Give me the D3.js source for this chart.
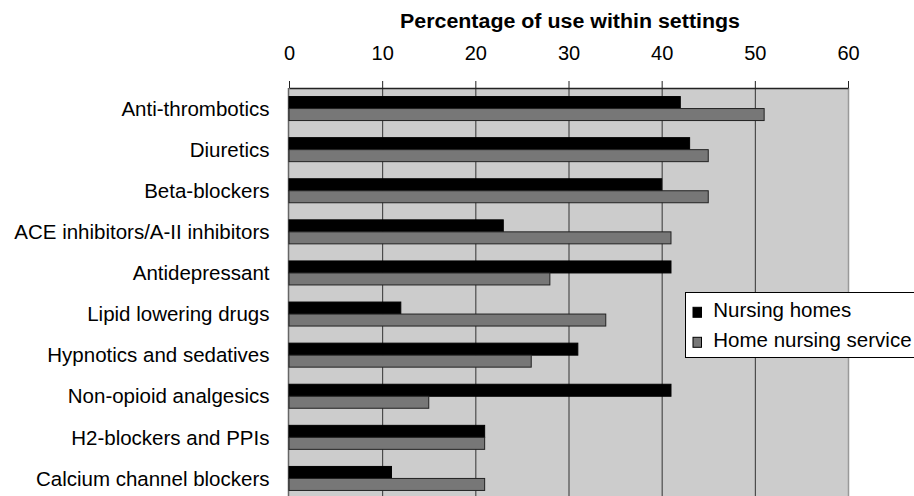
<!DOCTYPE html>
<html><head><meta charset="utf-8">
<script src="https://cdn.jsdelivr.net/npm/d3@7"></script>
<style>body{margin:0;background:#fff;}svg{display:block;font-family:"Liberation Sans",Arial,sans-serif;}</style>
</head><body>
<script>
const categories = ["Anti-thrombotics","Diuretics","Beta-blockers","ACE inhibitors/A-II inhibitors","Antidepressant","Lipid lowering drugs","Hypnotics and sedatives","Non-opioid analgesics","H2-blockers and PPIs","Calcium channel blockers"];
const seriesNames = ["Nursing homes","Home nursing service"];
const nursingHomes = [42,43,40,23,41,12,31,41,21,11];
const homeNursing = [51,45,45,41,28,34,26,15,21,21];
const ticks = [0,10,20,30,40,50,60];
const title = "Percentage of use within settings";

(function(){
const W=914,H=496;
const svg=d3.select("body").append("svg").attr("width",W).attr("height",H);
const pL=289,pR=848,pT=88,step=41.1;
const x=d3.scaleLinear().domain([0,60]).range([pL,pR]);
const y=d3.scaleBand().domain(categories).range([pT,pT+step*categories.length]).paddingInner(0).paddingOuter(0);
const barH=12;

svg.append("rect").attr("x",pL).attr("y",pT).attr("width",pR-pL).attr("height",H-pT+10).attr("fill","#cccccc");
svg.append("g").selectAll("line").data(ticks.slice(1)).join("line")
  .attr("x1",d=>x(d)+0.5).attr("x2",d=>x(d)+0.5).attr("y1",pT).attr("y2",H+10)
  .attr("stroke",d=>d===60?"#999":"#333").attr("stroke-width",d=>d===60?1.5:1);
svg.append("line").attr("x1",pL-0.5).attr("x2",pL-0.5).attr("y1",pT).attr("y2",H+10).attr("stroke","#666").attr("stroke-width",1.5);

const data=categories.map((c,i)=>({c,v:[nursingHomes[i],homeNursing[i]]}));
const fills=["#000","#777"],strokes=["#000","#222"];
const g=svg.append("g");
data.forEach(d=>{
  const cy=y(d.c)+y.bandwidth()/2;
  d.v.forEach((v,j)=>{
    g.append("rect").attr("x",x(0)).attr("y",cy-barH+j*barH).attr("width",x(v)-x(0)).attr("height",barH)
     .attr("fill",fills[j]).attr("stroke",strokes[j]).attr("stroke-width",1);
  });
});

const ax=svg.append("g").attr("transform",`translate(0,${pT})`)
  .call(d3.axisTop(x).tickValues(ticks).tickSize(7).tickSizeOuter(0).tickPadding(21));
ax.select(".domain").attr("stroke","#222").attr("stroke-width",1.5);
ax.selectAll(".tick line").attr("stroke","#222");
ax.selectAll("text").attr("font-size",20).attr("fill","#000").attr("font-family","Liberation Sans, Arial, sans-serif");

svg.append("text").attr("x",570).attr("y",28).attr("text-anchor","middle")
  .attr("font-weight","bold").attr("font-size",20).attr("textLength",340).attr("lengthAdjust","spacingAndGlyphs").text(title);

svg.append("g").selectAll("text").data(categories).join("text")
  .attr("x",269.5).attr("y",d=>y(d)+y.bandwidth()/2).attr("dy","0.35em").attr("text-anchor","end")
  .attr("font-size",20.5).text(d=>d);

const lg=svg.append("g");
lg.append("rect").attr("x",685.5).attr("y",292.5).attr("width",240).attr("height",65).attr("fill","#fff").attr("stroke","#000");
seriesNames.forEach((s,i)=>{
  const base=317.3+i*30;
  lg.append("rect").attr("x",693).attr("y",base-10).attr("width",8.5).attr("height",10).attr("fill",fills[i]).attr("stroke","#000");
  lg.append("text").attr("x",713.3).attr("y",base).attr("font-size",20.5).text(s);
});
})();
</script>
</body></html>
